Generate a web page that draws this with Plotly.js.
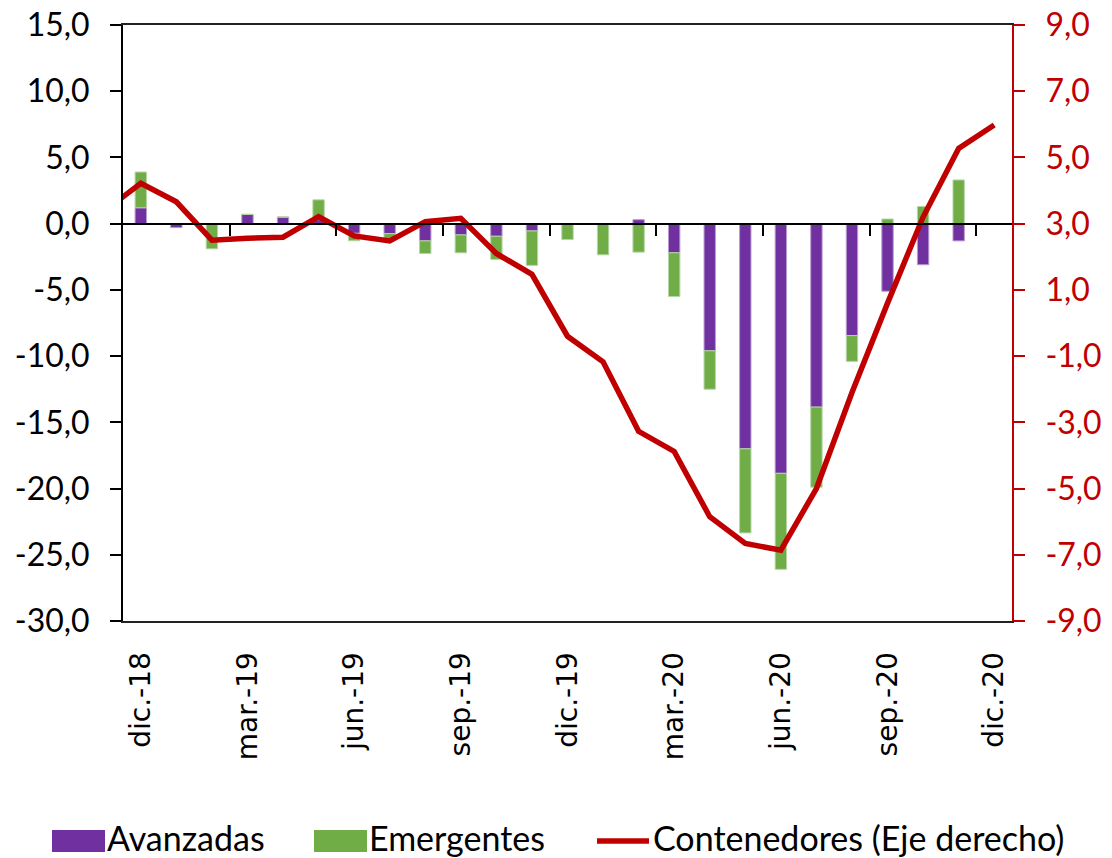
<!DOCTYPE html>
<html>
<head>
<meta charset="utf-8">
<script src="https://cdn.plot.ly/plotly-3.0.1.min.js"></script>
<style>html,body{margin:0;padding:0;background:#fff;}#chart{width:1112px;height:858px;}</style>
</head>
<body>
<div id="chart"></div>
<script>
// Categories (monthly)
const months = ['dic.-18','ene.-19','feb.-19','mar.-19','abr.-19','may.-19','jun.-19','jul.-19','ago.-19','sep.-19','oct.-19','nov.-19','dic.-19','ene.-20','feb.-20','mar.-20','abr.-20','may.-20','jun.-20','jul.-20','ago.-20','sep.-20','oct.-20','nov.-20','dic.-20'];
// the line series starts one month earlier (clipped at the left edge)
const lineMonths = ['nov.-18'].concat(months);

// Series (left axis, stacked bars)
const avanzadas  = [1.2,-0.3,0,0.7,0.5,0.3,-0.73,-0.75,-1.3,-0.85,-0.95,-0.55,0,0,0.3,-2.2,-9.6,-17.0,-18.85,-13.85,-8.45,-5.1,-3.1,-1.3,null];
const emergentes = [2.7,0,-1.9,0,0,1.5,-0.56,-0.4,-0.95,-1.35,-1.75,-2.6,-1.2,-2.35,-2.15,-3.3,-2.9,-6.35,-7.25,-6.05,-1.95,0.35,1.3,3.3,null];
// Series (right axis, line)
const contenedores = [3.4,4.22,3.66,2.50,2.56,2.59,3.21,2.63,2.48,3.06,3.16,2.10,1.47,-0.40,-1.17,-3.27,-3.88,-5.85,-6.66,-6.86,-5.0,-2.1,0.6,3.2,5.27,5.98];

// Tick labels
const xTickLabels = ['dic.-18','mar.-19','jun.-19','sep.-19','dic.-19','mar.-20','jun.-20','sep.-20','dic.-20'];
const leftTicks  = [15,10,5,0,-5,-10,-15,-20,-25,-30];
const rightTicks = [9,7,5,3,1,-1,-3,-5,-7,-9];
const seriesNames = ['Avanzadas','Emergentes','Contenedores (Eje derecho)'];

const fmt = v => v.toFixed(1).replace('.', ',');
const COL_AV = '#7030A0', COL_EM = '#70AD47', COL_LN = '#C00000';

// boundary ticks on the zero line: before every 3rd month (category index space of lineMonths)
const boundaryTicks = [];
lineMonths.forEach((m,i)=>{ if (xTickLabels.indexOf(m) > 0) boundaryTicks.push(i-0.5); });

const traces = [
  {type:'bar', name:seriesNames[0], x:months, y:avanzadas, marker:{color:COL_AV, line:{color:'#b79bd0', width:1}}, showlegend:false},
  {type:'bar', name:seriesNames[1], x:months, y:emergentes, marker:{color:COL_EM, line:{color:'#b5d6a3', width:1}}, showlegend:false},
  {type:'scatter', mode:'lines', name:seriesNames[2], x:lineMonths, y:contenedores, yaxis:'y2',
   line:{color:COL_LN, width:5.5, shape:'linear'}, showlegend:false},
  // invisible helper so the zero-line tick axis is drawn
  {type:'scatter', mode:'none', x:boundaryTicks, y:boundaryTicks.map(()=>0), xaxis:'x2', yaxis:'y', showlegend:false, hoverinfo:'skip'}
];

// plot area in pixels: x 123..1012, y 25..621
const L=123, R=1012, T=25, B=621;
const X = px => (px-L)/(R-L);
const Y = py => (B-py)/(B-T);

const legendFont = {family:'Lato, sans-serif', size:34, color:'#000'};
const shapes = [
  {type:'rect', xref:'paper', yref:'paper', x0:X(52), x1:X(105), y0:Y(852), y1:Y(830), fillcolor:COL_AV, line:{width:0}},
  {type:'rect', xref:'paper', yref:'paper', x0:X(314), x1:X(367), y0:Y(852), y1:Y(830), fillcolor:COL_EM, line:{width:0}},
  {type:'line', xref:'paper', yref:'paper', x0:X(597), x1:X(649), y0:Y(841), y1:Y(841), line:{color:COL_LN, width:5.5}}
];
const annotations = [
  {text:seriesNames[0], xref:'paper', yref:'paper', x:X(106), y:Y(837), xanchor:'left', yanchor:'middle', showarrow:false, font:legendFont, borderpad:0},
  {text:seriesNames[1], xref:'paper', yref:'paper', x:X(368), y:Y(837), xanchor:'left', yanchor:'middle', showarrow:false, font:legendFont, borderpad:0},
  {text:seriesNames[2], xref:'paper', yref:'paper', x:X(652), y:Y(837), xanchor:'left', yanchor:'middle', showarrow:false, font:legendFont, borderpad:0}
];

const layout = {
  width:1112, height:858,
  margin:{l:L, r:1112-R, t:T, b:858-B, pad:0},
  paper_bgcolor:'#fff', plot_bgcolor:'#fff',
  barmode:'relative', bargap:0.68,
  showlegend:false,
  font:{family:'Lato, sans-serif', color:'#000'},
  xaxis:{
    type:'category', categoryorder:'array', categoryarray:lineMonths,
    range:[0.5, lineMonths.length-0.5],
    tickmode:'array', tickvals:xTickLabels, ticktext:xTickLabels,
    tickangle:-90, ticks:'', ticklabelstandoff:18,
    tickfont:{family:'DejaVu Sans, sans-serif', size:28, color:'#000'},
    showline:true, linecolor:'#222', linewidth:2, mirror:true,
    showgrid:false, zeroline:false, fixedrange:true
  },
  xaxis2:{
    type:'linear', overlaying:'x', anchor:'free', position:30/45, side:'bottom',
    range:[0.5, lineMonths.length-0.5],
    tickmode:'array', tickvals:boundaryTicks, ticks:'outside', ticklen:11, tickwidth:2, tickcolor:'#000',
    showticklabels:false, showline:true, linecolor:'#000', linewidth:2,
    showgrid:false, zeroline:false, fixedrange:true
  },
  yaxis:{
    range:[-30,15], tickmode:'array', tickvals:leftTicks, ticktext:leftTicks.map(fmt),
    ticks:'outside', ticklen:11, tickwidth:2, tickcolor:'#000', ticklabelstandoff:14,
    tickfont:{family:'Lato, sans-serif', size:32, color:'#000'},
    showline:true, linecolor:'#000', linewidth:2,
    showgrid:false, zeroline:false, fixedrange:true
  },
  yaxis2:{
    overlaying:'y', side:'right', range:[-9,9],
    tickmode:'array', tickvals:rightTicks, ticktext:rightTicks.map(fmt),
    ticks:'outside', ticklen:11, tickwidth:2, tickcolor:COL_LN, ticklabelstandoff:14,
    tickfont:{family:'Lato, sans-serif', size:32, color:COL_LN},
    showline:true, linecolor:COL_LN, linewidth:2,
    showgrid:false, zeroline:false, fixedrange:true
  },
  shapes:shapes,
  annotations:annotations
};

Plotly.newPlot('chart', traces, layout, {displayModeBar:false, staticPlot:true});
</script>
</body>
</html>
